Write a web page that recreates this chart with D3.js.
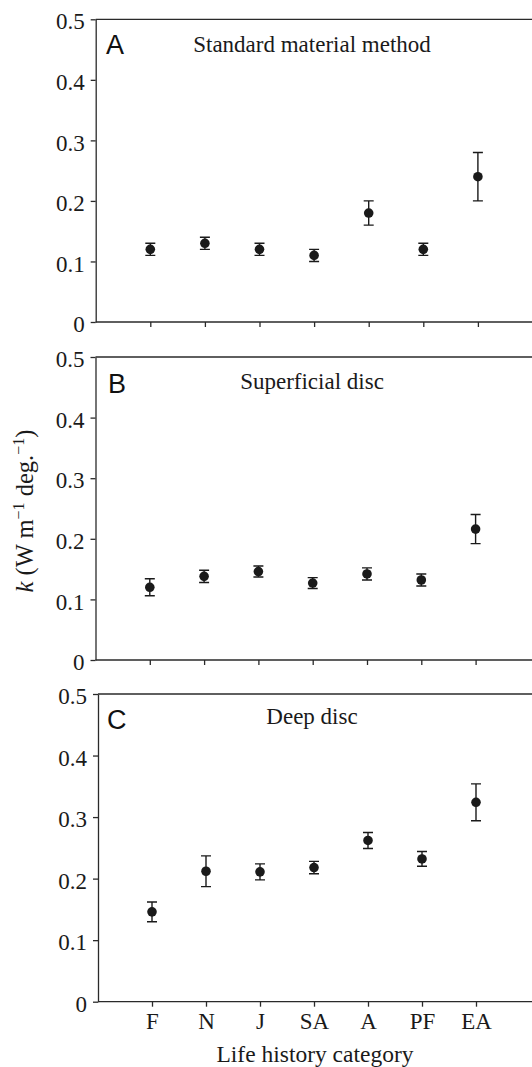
<!DOCTYPE html>
<html>
<head>
<meta charset="utf-8">
<script src="https://cdn.jsdelivr.net/npm/d3@7"></script>
<style>
  html, body { margin: 0; padding: 0; background: #fff; }
  svg { display: block; }
  .axis path, .axis line { stroke: #2a2a2a; stroke-width: 1.3px; }
  .axis text { font-family: "Liberation Serif", "Times New Roman", serif; font-size: 23px; fill: #1a1a1a; }
</style>
</head>
<body>
<svg id="chart" width="532" height="1067"></svg>
<script>
// ---- data ----
const categories = ["F", "N", "J", "SA", "A", "PF", "EA"];
const panelLetters = ["A", "B", "C"];
const panelTitles = ["Standard material method", "Superficial disc", "Deep disc"];
const yTicks = [0, 0.1, 0.2, 0.3, 0.4, 0.5];

const meanA = [0.120, 0.130, 0.120, 0.110, 0.180, 0.120, 0.240];
const errA  = [0.010, 0.010, 0.010, 0.010, 0.020, 0.010, 0.040];
const meanB = [0.120, 0.138, 0.146, 0.127, 0.142, 0.132, 0.216];
const errB  = [0.014, 0.010, 0.009, 0.009, 0.010, 0.010, 0.024];
const meanC = [0.146, 0.212, 0.211, 0.218, 0.262, 0.232, 0.324];
const errC  = [0.016, 0.025, 0.013, 0.010, 0.013, 0.012, 0.030];

const xLabel = "Life history category";

// ---- layout ----
const W = 532;
const panels = [
  { mean: meanA, err: errA, top: 19.3, bottom: 322, left: 95.7, step: 54.6, titleDy: 33, letterX: 106, letterDy: 34.8 },
  { mean: meanB, err: errB, top: 357, bottom: 660, left: 95.5, step: 54.3, titleDy: 31.5, letterX: 108, letterDy: 36.3 },
  { mean: meanC, err: errC, top: 694, bottom: 1001.7, left: 98, step: 54.0, titleDy: 29.5, letterX: 107, letterDy: 35.3 }
];

const svg = d3.select("#chart");
svg.append("rect").attr("width", W).attr("height", 1067).attr("fill", "#fff");

const serif = '"Liberation Serif", "Times New Roman", serif';
const sans = '"Liberation Sans", Arial, Helvetica, sans-serif';

panels.forEach((p, pi) => {
  const x = d3.scaleLinear().domain([0, 8]).range([p.left, p.left + 8 * p.step]);
  const y = d3.scaleLinear().domain([0, 0.5]).range([p.bottom, p.top]);
  const g = svg.append("g");

  // top border line
  g.append("line")
    .attr("x1", x(0)).attr("x2", W + 5)
    .attr("y1", y(0.5)).attr("y2", y(0.5))
    .attr("stroke", "#2a2a2a").attr("stroke-width", 1.3);

  // x axis
  const xAxis = d3.axisBottom(x)
    .tickValues(d3.range(1, categories.length + 1))
    .tickSize(5)
    .tickSizeOuter(0)
    .tickPadding(5)
    .tickFormat(pi === 2 ? (d => categories[d - 1]) : (() => ""));
  const gx = g.append("g").attr("class", "axis")
    .attr("transform", `translate(0,${y(0)})`)
    .call(xAxis);
  gx.select(".domain").attr("d", `M${x(0)},0H${W + 5}`);
  gx.selectAll(".tick text").attr("dy", "0").attr("y", 27);

  // y axis
  const yAxis = d3.axisLeft(y)
    .tickValues(yTicks)
    .tickSize(5)
    .tickSizeOuter(0)
    .tickPadding(6)
    .tickFormat(d => d === 0 ? "0" : d3.format(".1f")(d));
  const gy = g.append("g").attr("class", "axis")
    .attr("transform", `translate(${x(0)},0)`)
    .call(yAxis);
  gy.selectAll(".tick text").attr("dy", "0.42em");

  // panel letter
  g.append("text")
    .attr("x", p.letterX).attr("y", p.top + p.letterDy)
    .attr("font-family", sans).attr("font-size", 27)
    .attr("fill", "#111")
    .text(panelLetters[pi]);

  // title
  g.append("text")
    .attr("x", 312).attr("y", p.top + p.titleDy)
    .attr("text-anchor", "middle")
    .attr("font-family", serif).attr("font-size", 23)
    .attr("fill", "#1a1a1a")
    .text(panelTitles[pi]);

  // error bars
  const data = categories.map((c, i) => ({ i: i + 1, m: p.mean[i], e: p.err[i] }));
  const eb = g.append("g").attr("stroke", "#1a1a1a").attr("stroke-width", 1.4).attr("fill", "none");
  eb.selectAll("path").data(data).enter().append("path")
    .attr("d", d => {
      const cx = x(d.i), y1 = y(d.m + d.e), y2 = y(d.m - d.e), hw = 5;
      return `M${cx - hw},${y1}H${cx + hw}M${cx},${y1}V${y2}M${cx - hw},${y2}H${cx + hw}`;
    });

  // points
  g.append("g").selectAll("circle").data(data).enter().append("circle")
    .attr("cx", d => x(d.i))
    .attr("cy", d => y(d.m))
    .attr("r", 4.8)
    .attr("fill", "#1a1a1a");
});

// x axis label
svg.append("text")
  .attr("x", 315).attr("y", 1061.5)
  .attr("text-anchor", "middle")
  .attr("font-family", serif).attr("font-size", 23.5)
  .attr("fill", "#1a1a1a")
  .text(xLabel);

// y axis label (rotated)
const yl = svg.append("text")
  .attr("transform", "translate(33,511) rotate(-90)")
  .attr("text-anchor", "middle")
  .attr("font-family", serif).attr("font-size", 24.5)
  .attr("fill", "#1a1a1a");
yl.append("tspan").attr("font-style", "italic").text("k");
yl.append("tspan").text(" (W m");
yl.append("tspan").attr("font-size", 16).attr("dy", -9.5).text("\u22121");
yl.append("tspan").attr("dy", 9.5).text(" deg.");
yl.append("tspan").attr("font-size", 16).attr("dy", -9.5).text("\u22121");
yl.append("tspan").attr("dy", 9.5).text(")");
</script>
</body>
</html>
